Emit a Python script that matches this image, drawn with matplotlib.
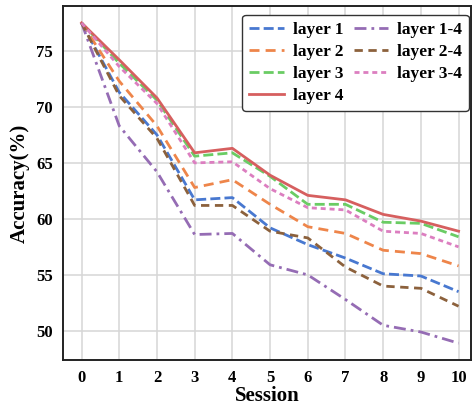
import matplotlib
matplotlib.use("Agg")
import matplotlib.pyplot as plt

#
# Les données : précision par session pour chaque configuration.
#
sessions = list(range(11))
layer1 = [77.5, 71.3, 67.5, 61.7, 61.9, 59.2, 57.7, 56.5, 55.1, 54.9, 53.5]
layer2 = [77.5, 72.3, 68.3, 62.8, 63.5, 61.3, 59.3, 58.7, 57.2, 56.9, 55.8]
layer3 = [77.5, 73.9, 70.6, 65.6, 65.9, 63.8, 61.3, 61.3, 59.7, 59.6, 58.4]
layer4 = [77.5, 74.2, 70.8, 65.9, 66.3, 63.9, 62.1, 61.7, 60.4, 59.8, 58.9]
layer1_4 = [77.5, 68.3, 64.2, 58.6, 58.7, 55.9, 55.0, 52.8, 50.5, 49.9, 48.9]
layer2_4 = [77.5, 71.0, 67.2, 61.2, 61.2, 58.9, 58.3, 55.7, 54.0, 53.8, 52.2]
layer3_4 = [77.5, 73.6, 70.3, 65.0, 65.1, 62.7, 61.0, 60.8, 58.9, 58.7, 57.5]

noms = ["layer 1", "layer 2", "layer 3", "layer 4", "layer 1-4", "layer 2-4", "layer 3-4"]
series = [layer1, layer2, layer3, layer4, layer1_4, layer2_4, layer3_4]
couleurs = ["#4878d0", "#ee854a", "#6acc64", "#d65f5f", "#956cb4", "#8c613c", "#dc7ec0"]
tirets = [(3.6, 1.5), (3.6, 2.2), (3.6, 1.5), None, (4.3, 1.8, 1, 1.8), (3.0, 2.0), (1.8, 1.4)]

plt.rcParams["font.family"] = ["Liberation Serif", "DejaVu Serif"]
plt.rcParams["font.weight"] = "bold"

fig = plt.figure(figsize=(4.73, 4.07), dpi=100)
ax = fig.add_axes([0.1326, 0.1155, 0.8632, 0.8695])

for nom, valeurs, couleur, tiret in zip(noms, series, couleurs, tirets):
    if tiret is None:
        ax.plot(sessions, valeurs, color=couleur, lw=2.0, label=nom)
    else:
        ax.plot(sessions, valeurs, color=couleur, lw=2.0, dashes=tiret, label=nom)

ax.set_xlim(-0.5, 10.33)
ax.set_ylim(47.4, 79.0)
ax.set_xticks(sessions)
ax.set_yticks([50, 55, 60, 65, 70, 75])
ax.grid(True, color="#d6d6d6", lw=1.1)
ax.set_axisbelow(True)
ax.tick_params(length=0, labelsize=12, pad=7)
for lab in ax.get_xticklabels() + ax.get_yticklabels():
    lab.set_fontweight("bold")

for cote in ax.spines.values():
    cote.set_color("#222222")
    cote.set_linewidth(1.4)

ax.set_xlabel("Session", fontsize=15, fontweight="bold", labelpad=0)
ax.set_ylabel("Accuracy(%)", fontsize=15, fontweight="bold", labelpad=5)

leg = ax.legend(ncol=2, loc="upper right", bbox_to_anchor=(0.995, 0.975), borderaxespad=0,
                prop={"size": 12.5, "weight": "bold"}, handlelength=2.0, columnspacing=0.6,
                labelspacing=0.33, handletextpad=0.5, fancybox=True, framealpha=1)
leg.get_frame().set_edgecolor("#333333")
leg.get_frame().set_linewidth(1.0)

fig.savefig("out.png", dpi=100)
